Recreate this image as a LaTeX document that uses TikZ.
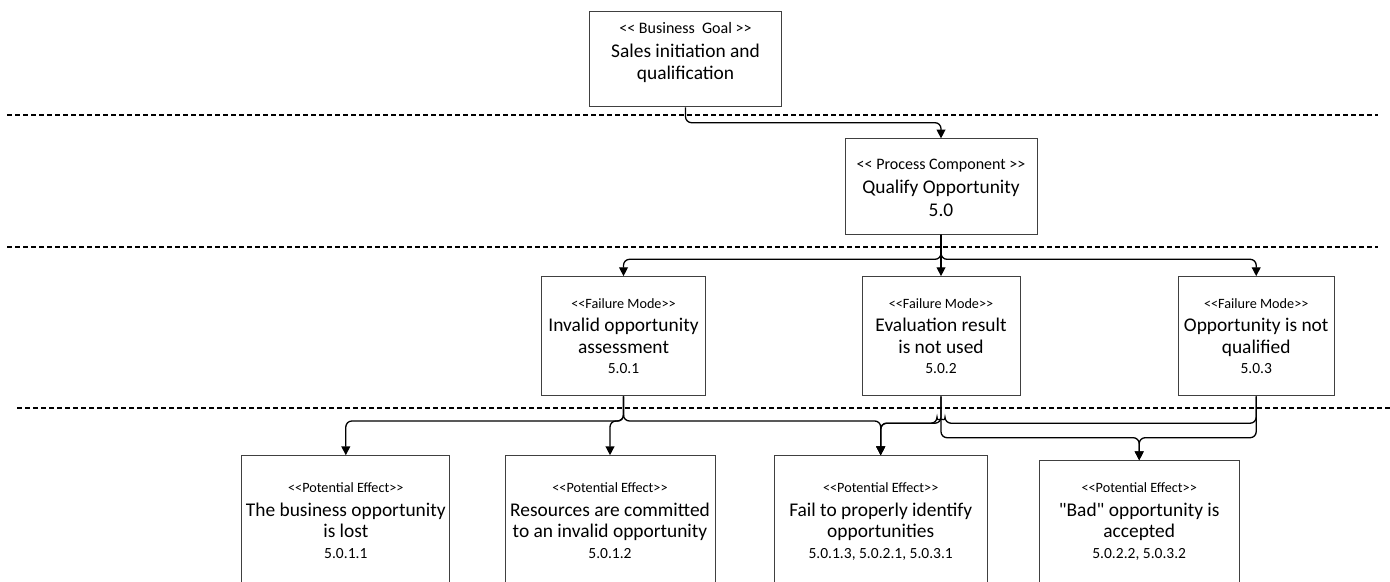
\documentclass[tikz,border=0pt]{standalone}
\usepackage{fontspec}
\newfontfamily\dgfont{Carlito}
\usetikzlibrary{arrows.meta}
\definecolor{boxgray}{HTML}{404040}
\newcommand\dgMain{\dgfont\fontsize{9.7}{11}\selectfont}
\newcommand\dgLab{\dgfont\fontsize{7.1}{8}\selectfont}
\newcommand\dgNum{\dgfont\fontsize{7.75}{9}\selectfont}
\newcommand\dgHead{\dgfont\fontsize{8}{9}\selectfont}
\begin{document}
\begin{tikzpicture}[x=0.5pt,y=-0.5pt,
  box/.style={draw=boxgray,line width=0.5pt,fill=white,inner sep=0pt,rectangle},
  conn/.style={draw=black,line width=0.65pt,rounded corners=3pt,-{Triangle[width=4.4pt,length=4.4pt]}},
  sep/.style={draw=black,line width=0.9pt,dash pattern=on 2.5pt off 1.5pt},
  headT/.style={anchor=base,inner sep=0pt,font=\dgHead},
  labT/.style={anchor=base,inner sep=0pt,font=\dgLab},
  mainT/.style={anchor=base,inner sep=0pt,font=\dgMain},
  numT/.style={anchor=base,inner sep=0pt,font=\dgNum}]
\useasboundingbox (0,0) rectangle (1390,582);
\clip (0,0) rectangle (1390,582);

% separators
\coordinate (d1a) at (7.3,115);   \coordinate (d1b) at (1378,115);
\coordinate (d2a) at (7.3,246.7); \coordinate (d2b) at (1378,246.7);
\coordinate (d3a) at (17.3,407.7);\coordinate (d3b) at (1392,407.7);
\draw[sep] (d1a) -- (d1b);
\draw[sep] (d2a) -- (d2b);
\draw[sep] (d3a) -- (d3b);

% boxes
\node[box,minimum width=95.85pt,minimum height=47.65pt] (bg) at (685.5,59.3) {};
\node[box,minimum width=96pt,minimum height=47.6pt] (proc) at (941,186.5) {};
\node[box,minimum width=81.8pt,minimum height=59.65pt] (fm1) at (623.5,336.3) {};
\node[box,minimum width=79pt,minimum height=59.65pt] (fm2) at (941,336.3) {};
\node[box,minimum width=77.85pt,minimum height=59.65pt] (fm3) at (1256.2,336.3) {};
\node[box,minimum width=104pt,minimum height=80pt] (pe1) at (345.8,535.7) {};
\node[box,minimum width=105pt,minimum height=80pt] (pe2) at (610,535.7) {};
\node[box,minimum width=106.65pt,minimum height=80pt] (pe3) at (880.7,535.7) {};
\node[box,minimum width=100.15pt,minimum height=80pt] (pe4) at (1139.2,540.7) {};

% texts
\node[headT] (bg1) at (685.5,34) {<< Business~~Goal >>};
\node[mainT] (bg2) at (685.5,57.2) {Sales initiation and};
\node[mainT] (bg3) at (685.5,79.5) {qualification};

\node[headT] (pr1) at (941,169.5) {<< Process Component >>};
\node[mainT] (pr2) at (941,193.2) {Qualify Opportunity};
\node[mainT] (pr3) at (941,216.5) {5.0};

\node[labT] (f11) at (623.5,308.3) {<<Failure Mode>>};
\node[mainT] (f12) at (623.5,331.3) {Invalid opportunity};
\node[mainT] (f13) at (623.5,353) {assessment};
\node[numT] (f14) at (623.5,373.2) {5.0.1};

\node[labT] (f21) at (941,308.3) {<<Failure Mode>>};
\node[mainT] (f22) at (941,331.3) {Evaluation result};
\node[mainT] (f23) at (941,353) {is not used};
\node[numT] (f24) at (941,373.2) {5.0.2};

\node[labT] (f31) at (1256.2,308.3) {<<Failure Mode>>};
\node[mainT] (f32) at (1256.2,331.3) {Opportunity is not};
\node[mainT] (f33) at (1256.2,353) {qualified};
\node[numT] (f34) at (1256.2,373.2) {5.0.3};

\node[labT] (p11) at (345.8,492.3) {<<Potential Effect>>};
\node[mainT] (p12) at (345.8,516.5) {The business opportunity};
\node[mainT] (p13) at (345.8,537.5) {is lost};
\node[numT] (p14) at (345.8,558) {5.0.1.1};

\node[labT] (p21) at (610,492.3) {<<Potential Effect>>};
\node[mainT] (p22) at (610,516.5) {Resources are committed};
\node[mainT] (p23) at (610,537.5) {to an invalid opportunity};
\node[numT] (p24) at (610,558) {5.0.1.2};

\node[labT] (p31) at (880.7,492.3) {<<Potential Effect>>};
\node[mainT] (p32) at (880.7,516.5) {Fail to properly identify};
\node[mainT] (p33) at (880.7,537.5) {opportunities};
\node[numT] (p34) at (880.7,558) {5.0.1.3, 5.0.2.1, 5.0.3.1};

\node[labT] (p41) at (1139.2,492.3) {<<Potential Effect>>};
\node[mainT] (p42) at (1139.2,516.5) {"Bad" opportunity is};
\node[mainT] (p43) at (1139.2,537.5) {accepted};
\node[numT] (p44) at (1139.2,558) {5.0.2.2, 5.0.3.2};

% junction levels
\coordinate (j1) at (0,122.7);
\coordinate (j2) at (0,259.3);
\coordinate (j3) at (0,421);
\coordinate (j4) at (0,423.2);
\coordinate (j5) at (0,437.7);

% connectors
\draw[conn] (bg.south) -- (bg.south |- j1) -| (proc.north);
\draw[conn] (proc.south) -- (proc.south |- j2) -| (fm1.north);
\draw[conn] (proc.south) -- (fm2.north);
\draw[conn] (proc.south) -- (proc.south |- j2) -| (fm3.north);

\draw[conn] (fm1.south) -- (fm1.south |- j3) -| (pe1.north);
\draw[conn] (fm1.south) -- (fm1.south |- j3) -| (pe2.north);
\draw[conn] (fm1.south) -- (fm1.south |- j3) -| (pe3.north);
\draw[conn] (fm2.south) -- (fm2.south |- j4) -| (pe3.north);
\coordinate (hopR) at ([xshift=2pt]fm2.south |- j4);
\draw[conn] (fm3.south) -- (fm3.south |- j4) -- (hopR)
  arc[start angle=0,end angle=-180,radius=4] -| (pe3.north);
\draw[conn] (fm2.south) -- (fm2.south |- j5) -| (pe4.north);
\draw[conn] (fm3.south) -- (fm3.south |- j5) -| (pe4.north);
\end{tikzpicture}
\end{document}
